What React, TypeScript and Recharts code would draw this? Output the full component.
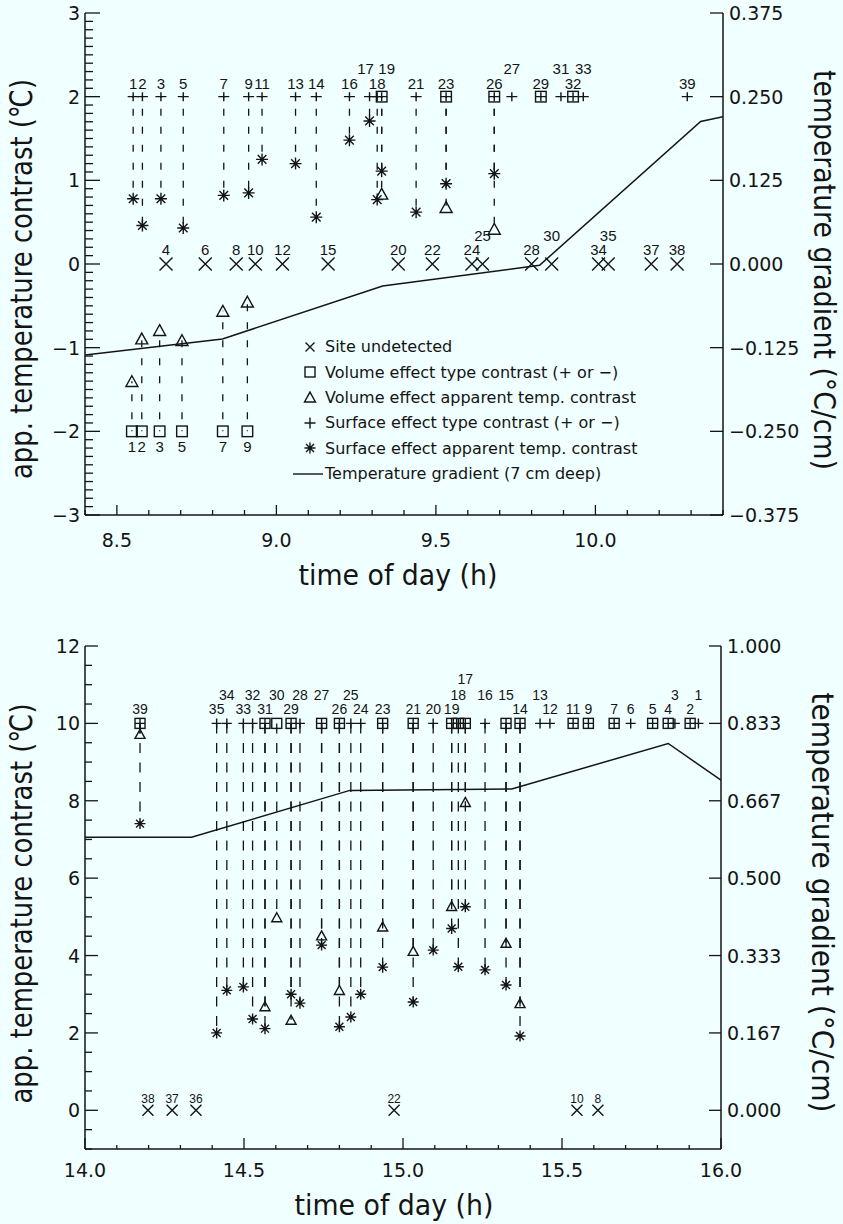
import React from "react";
import { ComposedChart, Line, Scatter, XAxis, YAxis, ReferenceLine, Legend } from "recharts";

const INK = "#141414";
const PAPER = "#f0ffff";
const SANS = "'DejaVu Sans', Verdana, sans-serif";
const NUM = "'Liberation Sans', Arial, sans-serif";

type Row2 = [number, number];
type Row3 = [number, number, number];

// ---- morning pass (top panel) ----  [site, time of day h]
const amUndetected: Row2[] = [
  [4, 8.654], [6, 8.777], [8, 8.874], [10, 8.934], [12, 9.019], [15, 9.162],
  [20, 9.382], [22, 9.489], [24, 9.613], [25, 9.646], [28, 9.8], [30, 9.863],
  [34, 10.01], [35, 10.04], [37, 10.175], [38, 10.256],
];
// "+" surface type contrast
const amSurface: Row2[] = [
  [1, 8.551], [2, 8.58], [3, 8.638], [5, 8.708], [7, 8.835], [9, 8.913], [11, 8.955],
  [13, 9.06], [14, 9.125], [16, 9.229], [17, 9.292], [18, 9.316], [19, 9.33],
  [21, 9.438], [23, 9.532], [26, 9.683], [27, 9.738], [29, 9.829], [31, 9.892],
  [32, 9.93], [33, 9.962], [39, 10.288],
];
// squares, volume type contrast [site, time, sign]
const amVolume: Row3[] = [
  [1, 8.547, -1], [2, 8.578, -1], [3, 8.634, -1], [5, 8.704, -1], [7, 8.832, -1], [9, 8.909, -1],
  [19, 9.33, 1], [23, 9.532, 1], [26, 9.683, 1], [29, 9.829, 1], [32, 9.93, 1],
];
// asterisks, surface apparent temp. contrast (°C)
const amSurfaceTemp: Row3[] = [
  [1, 8.551, 0.78], [2, 8.58, 0.46], [3, 8.638, 0.78], [5, 8.708, 0.43], [7, 8.835, 0.82],
  [9, 8.913, 0.85], [11, 8.955, 1.25], [13, 9.06, 1.2], [14, 9.125, 0.56], [16, 9.229, 1.48],
  [17, 9.292, 1.71], [18, 9.316, 0.77], [19, 9.33, 1.11], [21, 9.438, 0.62], [23, 9.532, 0.96],
  [26, 9.683, 1.08],
];
// triangles, volume apparent temp. contrast (°C)
const amVolumeTemp: Row3[] = [
  [1, 8.547, -1.4], [2, 8.578, -0.89], [3, 8.634, -0.79], [5, 8.704, -0.91], [7, 8.832, -0.56],
  [9, 8.909, -0.45], [19, 9.33, 0.84], [23, 9.532, 0.68], [26, 9.683, 0.42],
];
// temperature gradient 7 cm deep (°C/cm)
const amGradient: Row2[] = [
  [8.4, -0.136], [8.831, -0.112], [9.333, -0.033], [9.825, -0.002], [10.33, 0.213], [10.4, 0.22],
];
const amRaised = [17, 19, 25, 27, 30, 31, 33, 35];
const amNudge: Record<number, number> = { 17: -4, 19: 5 };

// ---- afternoon pass (bottom panel) ----
const pmUndetected: Row2[] = [
  [38, 14.198], [37, 14.274], [36, 14.349], [22, 14.972], [10, 15.547], [8, 15.613],
];
const pmSurface: Row2[] = [
  [39, 14.173], [35, 14.414], [34, 14.446], [33, 14.498], [32, 14.527], [31, 14.566],
  [29, 14.648], [28, 14.676], [27, 14.744], [26, 14.8], [25, 14.836], [24, 14.867],
  [23, 14.936], [21, 15.032], [20, 15.095], [19, 15.153], [18, 15.174], [17, 15.196],
  [16, 15.258], [15, 15.324], [14, 15.368], [13, 15.431], [12, 15.462], [11, 15.535],
  [9, 15.583], [7, 15.664], [6, 15.716], [5, 15.785], [4, 15.834], [3, 15.855],
  [2, 15.903], [1, 15.929],
];
const pmVolume: Row3[] = [
  [39, 14.173, 1], [31, 14.566, 1], [30, 14.603, 1], [29, 14.648, 1], [27, 14.744, 1],
  [26, 14.8, 1], [23, 14.936, 1], [21, 15.032, 1], [19, 15.153, 1], [18, 15.174, 1],
  [17, 15.196, 1], [15, 15.324, 1], [14, 15.368, 1], [11, 15.535, 1], [9, 15.583, 1],
  [7, 15.664, 1], [5, 15.785, 1], [4, 15.834, 1], [2, 15.903, 1],
];
const pmSurfaceTemp: Row3[] = [
  [39, 14.173, 7.41], [35, 14.414, 2.0], [34, 14.446, 3.1], [33, 14.498, 3.19], [32, 14.527, 2.36],
  [31, 14.566, 2.11], [29, 14.648, 3.0], [28, 14.676, 2.77], [27, 14.744, 4.27], [26, 14.8, 2.16],
  [25, 14.836, 2.41], [24, 14.867, 3.0], [23, 14.936, 3.7], [21, 15.032, 2.8], [20, 15.095, 4.14],
  [19, 15.153, 4.7], [18, 15.174, 3.71], [17, 15.196, 5.26], [16, 15.258, 3.63], [15, 15.324, 3.24],
  [14, 15.368, 1.92],
];
const pmVolumeTemp: Row3[] = [
  [39, 14.173, 9.73], [31, 14.566, 2.69], [30, 14.603, 4.99], [29, 14.648, 2.34], [27, 14.744, 4.52],
  [26, 14.8, 3.11], [23, 14.936, 4.75], [21, 15.032, 4.12], [19, 15.153, 5.28], [17, 15.196, 7.97],
  [15, 15.324, 4.33], [14, 15.368, 2.77],
];
const pmGradient: Row2[] = [
  [14.0, 0.588], [14.335, 0.588], [14.833, 0.689], [15.342, 0.692], [15.834, 0.79], [16.0, 0.711],
];
const pmRow2 = [34, 32, 30, 28, 27, 25, 18, 16, 15, 13, 3, 1];
const pmRow3 = [17];

const legendItems = [
  { mark: "cross", text: "Site undetected" },
  { mark: "box", text: "Volume effect type contrast (+ or \u2212)" },
  { mark: "tri", text: "Volume effect apparent temp. contrast" },
  { mark: "plus", text: "Surface effect type contrast (+ or \u2212)" },
  { mark: "star", text: "Surface effect apparent temp. contrast" },
  { mark: "line", text: "Temperature gradient (7 cm deep)" },
];

const steps = (a: number, b: number, st: number) =>
  Array.from({ length: Math.round((b - a) / st) + 1 }, (_, i) => Math.round((a + i * st) * 1000) / 1000);
const minus = (s: string) => s.replace("-", "\u2212");
const near = (list: number[], v: number) => list.some((m) => Math.abs(m - v) < 1e-6);

const SW = 1.4;
type G = { x: number; y: number; r: number; h?: number };
function Cross({ x, y, r }: G) {
  return <path d={`M${x - r} ${y - r}L${x + r} ${y + r}M${x - r} ${y + r}L${x + r} ${y - r}`} stroke={INK} strokeWidth={SW} fill="none" />;
}
function Plus({ x, y, r, h }: G) {
  const v = h ?? r;
  return <path d={`M${x - r} ${y}H${x + r}M${x} ${y - v}V${y + v}`} stroke={INK} strokeWidth={SW} fill="none" />;
}
function Box({ x, y, r }: G) {
  return <rect x={x - r} y={y - r} width={2 * r} height={2 * r} stroke={INK} strokeWidth={SW} fill="none" />;
}
function Tri({ x, y, r }: G) {
  const h = r * 0.9;
  return <path d={`M${x} ${y - h}L${x + r} ${y + h}L${x - r} ${y + h}Z`} stroke={INK} strokeWidth={SW} fill="none" />;
}
function Star({ x, y, r }: G) {
  const d = r * 0.72;
  return (
    <path
      d={`M${x - r} ${y}H${x + r}M${x} ${y - r}V${y + r}M${x - d} ${y - d}L${x + d} ${y + d}M${x - d} ${y + d}L${x + d} ${y - d}`}
      stroke={INK} strokeWidth={SW} fill="none"
    />
  );
}

function glyph(mark: string, x: number, y: number) {
  if (mark === "cross") return <Cross x={x} y={y} r={4.5} />;
  if (mark === "box") return <Box x={x} y={y} r={5} />;
  if (mark === "tri") return <Tri x={x} y={y} r={5.5} />;
  if (mark === "plus") return <Plus x={x} y={y} r={5.5} />;
  if (mark === "star") return <Star x={x} y={y} r={5.5} />;
  return <line x1={3} x2={33} y1={y} y2={y} stroke={INK} strokeWidth={SW} />;
}

function LegendBox() {
  return (
    <div style={{ fontFamily: SANS, fontSize: 16, color: INK }}>
      {legendItems.map((it) => (
        <div key={it.text} style={{ display: "flex", alignItems: "center", height: 25.4, whiteSpace: "nowrap" }}>
          <svg width={35} height={20} style={{ flex: "none" }}>{glyph(it.mark, 20, 10)}</svg>
          <span>{it.text}</span>
        </div>
      ))}
    </div>
  );
}

type Spec = {
  width: number; height: number;
  margin: { top: number; right: number; bottom: number; left: number };
  xDomain: [number, number]; xTicks: number[]; xLabels: number[];
  xLen: [number, number]; xTopLen: [number, number]; xLabelDy: number;
  yDomain: [number, number]; yTicks: number[]; yLabels: number[]; yLen: [number, number];
  rDomain: [number, number]; rTicks: number[]; rLen: number;
  level: number;
  undetected: Row2[]; surface: Row2[]; volume: Row3[];
  surfaceTemp: Row3[]; volumeTemp: Row3[]; gradient: Row2[];
  row: (site: number) => number;
  nudge: Record<number, number>;
  typeDy: number[]; belowDy: number; xDy: number[];
  mark: { cross: number; plus: [number, number]; box: number; tri: number; star: number };
  labelSize: number; xLabelSize: number;
  dash: string; dashOffset: number;
  titleDy: number; rightTitleDy: number; xTitleDx: number; xTitleDy: number; rightTitleLen: number;
  legend?: boolean;
};

const LEFT_W = 60;
const RIGHT_W = 100;
const BOTTOM_H = 50;

function Panel({ s }: { s: Spec }) {
  const plotLeft = s.margin.left + LEFT_W;
  const plotRight = s.width - s.margin.right - RIGHT_W;
  const plotTop = s.margin.top;
  const plotBottom = s.height - s.margin.bottom - BOTTOM_H;

  const volSign = new Map(s.volume.map(([site, , sign]) => [site, sign]));
  const drops = [
    ...s.surfaceTemp.map(([, t, v]) => ({ t, from: s.level, to: v })),
    ...s.volumeTemp.map(([site, t, v]) => ({ t, from: s.level * (volSign.get(site) ?? 1), to: v })),
  ];
  const surfacePts = s.surface.map(([site, t]) => ({ site, t, v: s.level }));
  const volumePts = s.volume.map(([site, t, sign]) => ({ site, t, v: s.level * sign }));
  const xPts = s.undetected.map(([site, t]) => ({ site, t, v: 0 }));
  const starPts = s.surfaceTemp.map(([site, t, v]) => ({ site, t, v }));
  const triPts = s.volumeTemp.map(([site, t, v]) => ({ site, t, v }));
  const grad = s.gradient.map(([t, g]) => ({ t, g }));
  const surfIds = new Set(s.surface.map(([site]) => site));
  const labels = [
    ...surfacePts.map((p) => ({ ...p, kind: "above" })),
    ...volumePts
      .filter((p) => p.v < 0 || !surfIds.has(p.site))
      .map((p) => ({ ...p, kind: p.v < 0 ? "below" : "above" })),
    ...xPts.map((p) => ({ ...p, kind: "x" })),
  ];

  const axisLine = { stroke: INK, strokeWidth: 1.5 };

  const xTick = (p: any) => {
    const v = p.payload.value;
    const x = p.payload.coordinate ?? p.x;
    const major = near(s.xLabels, v);
    return (
      <g>
        <line x1={x} x2={x} y1={plotBottom} y2={plotBottom - (major ? s.xLen[1] : s.xLen[0])} stroke={INK} strokeWidth={1.3} />
        {major && (
          <text x={x} y={plotBottom + s.xLabelDy} textAnchor="middle" fontSize={19} fontFamily={SANS} fill={INK}>
            {v.toFixed(1)}
          </text>
        )}
      </g>
    );
  };
  const xTopTick = (p: any) => {
    const x = p.payload.coordinate ?? p.x;
    const major = near(s.xLabels, p.payload.value);
    return <line x1={x} x2={x} y1={plotTop} y2={plotTop + (major ? s.xTopLen[1] : s.xTopLen[0])} stroke={INK} strokeWidth={1.3} />;
  };
  const yTick = (p: any) => {
    const v = p.payload.value;
    const y = p.payload.coordinate ?? p.y;
    const major = near(s.yLabels, v);
    return (
      <g>
        <line x1={plotLeft} x2={plotLeft + (major ? s.yLen[1] : s.yLen[0])} y1={y} y2={y} stroke={INK} strokeWidth={1.3} />
        {major && (
          <text x={plotLeft - 5} y={y + 7} textAnchor="end" fontSize={19} fontFamily={SANS} fill={INK}>
            {minus(String(v))}
          </text>
        )}
      </g>
    );
  };
  const rTick = (p: any) => {
    const y = p.payload.coordinate ?? p.y;
    return (
      <g>
        <line x1={plotRight} x2={plotRight - s.rLen} y1={y} y2={y} stroke={INK} strokeWidth={1.3} />
        <text x={plotRight + 6} y={y + 7} textAnchor="start" fontSize={19} fontFamily={SANS} fill={INK}>
          {minus(p.payload.value.toFixed(3))}
        </text>
      </g>
    );
  };

  const midY = (plotTop + plotBottom) / 2;
  const leftTitle = () => {
    const x = plotLeft - 53;
    const y = midY + s.titleDy;
    return (
      <text x={x} y={y} transform={`rotate(-90 ${x} ${y})`} textAnchor="middle" fontSize={31} fontFamily={SANS} fill={INK}
        textLength={400} lengthAdjust="spacingAndGlyphs">
        app. temperature contrast (℃)
      </text>
    );
  };
  const rightTitle = () => {
    const x = plotRight + 91;
    const y = midY + s.rightTitleDy;
    return (
      <text x={x} y={y} transform={`rotate(90 ${x} ${y})`} textAnchor="middle" fontSize={30} fontFamily={SANS} fill={INK}
        textLength={s.rightTitleLen} lengthAdjust="spacingAndGlyphs">
        temperature gradient (°C/cm)
      </text>
    );
  };
  const bottomTitle = () => (
    <text x={(plotLeft + plotRight) / 2 + s.xTitleDx} y={plotBottom + s.xTitleDy} textAnchor="middle" fontSize={29}
      fontFamily={SANS} fill={INK} textLength={199} lengthAdjust="spacingAndGlyphs">
      time of day (h)
    </text>
  );

  const labelShape = (p: any) => {
    if (p.cx == null) return <g />;
    const { site, kind } = p.payload;
    const r = s.row(site);
    const dy = kind === "below" ? s.belowDy : kind === "x" ? s.xDy[Math.min(r, s.xDy.length - 1)] : s.typeDy[r];
    const dx = kind === "above" ? s.nudge[site] ?? 0 : 0;
    return (
      <text x={p.cx + dx} y={p.cy + dy} textAnchor="middle" fontSize={kind === "x" ? s.xLabelSize : s.labelSize} fontFamily={NUM} fill={INK}>
        {site}
      </text>
    );
  };

  const m = s.mark;
  return (
    <ComposedChart width={s.width} height={s.height} margin={s.margin} style={{ fontFamily: SANS }}>
      <XAxis
        xAxisId="b" dataKey="t" type="number" domain={s.xDomain} allowDataOverflow ticks={s.xTicks} interval={0}
        tickLine={false} tick={xTick} axisLine={axisLine} height={BOTTOM_H}
        label={{ content: bottomTitle }}
      />
      <XAxis
        xAxisId="top" orientation="top" type="number" domain={s.xDomain} allowDataOverflow ticks={s.xTicks} interval={0}
        tickLine={false} tick={xTopTick} axisLine={axisLine} height={0}
      />
      <YAxis
        yAxisId="l" type="number" domain={s.yDomain} allowDataOverflow ticks={s.yTicks} interval={0} width={LEFT_W}
        tickLine={false} tick={yTick} axisLine={axisLine}
        label={{ content: leftTitle }}
      />
      <YAxis
        yAxisId="r" orientation="right" type="number" domain={s.rDomain} allowDataOverflow ticks={s.rTicks} interval={0}
        width={RIGHT_W} tickLine={false} tick={rTick} axisLine={axisLine}
        label={{ content: rightTitle }}
      />
      {drops.map((d, i) => (
        <ReferenceLine
          key={i} xAxisId="b" yAxisId="l"
          segment={[{ x: d.t, y: d.from }, { x: d.t, y: d.to }]}
          stroke={INK} strokeWidth={1.3} strokeDasharray={s.dash} strokeDashoffset={s.dashOffset}
        />
      ))}
      <Line
        xAxisId="b" yAxisId="r" data={grad} dataKey="g" type="linear" dot={false} activeDot={false}
        stroke={INK} strokeWidth={1.5} isAnimationActive={false} legendType="none"
      />
      <Scatter xAxisId="b" yAxisId="l" data={xPts} dataKey="v" isAnimationActive={false} legendType="none"
        shape={(p: any) => (p.cx == null ? <g /> : <Cross x={p.cx} y={p.cy} r={m.cross} />)} />
      <Scatter xAxisId="b" yAxisId="l" data={volumePts} dataKey="v" isAnimationActive={false} legendType="none"
        shape={(p: any) => (p.cx == null ? <g /> : <Box x={p.cx} y={p.cy} r={m.box} />)} />
      <Scatter xAxisId="b" yAxisId="l" data={surfacePts} dataKey="v" isAnimationActive={false} legendType="none"
        shape={(p: any) => (p.cx == null ? <g /> : <Plus x={p.cx} y={p.cy} r={m.plus[0]} h={m.plus[1]} />)} />
      <Scatter xAxisId="b" yAxisId="l" data={triPts} dataKey="v" isAnimationActive={false} legendType="none"
        shape={(p: any) => (p.cx == null ? <g /> : <Tri x={p.cx} y={p.cy} r={m.tri} />)} />
      <Scatter xAxisId="b" yAxisId="l" data={starPts} dataKey="v" isAnimationActive={false} legendType="none"
        shape={(p: any) => (p.cx == null ? <g /> : <Star x={p.cx} y={p.cy} r={m.star} />)} />
      <Scatter xAxisId="b" yAxisId="l" data={labels} dataKey="v" isAnimationActive={false} legendType="none" shape={labelShape} />
      {s.legend && (
        <Legend
          layout="vertical" align="center" verticalAlign="middle" content={LegendBox}
          wrapperStyle={{ left: 290, top: 334, width: 430 }}
        />
      )}
    </ComposedChart>
  );
}

const amSpec: Spec = {
  width: 843, height: 600,
  margin: { top: 13, right: 20, bottom: 35, left: 25 },
  xDomain: [8.4, 10.4], xTicks: steps(8.4, 10.4, 0.1), xLabels: [8.5, 9, 9.5, 10],
  xLen: [5, 10], xTopLen: [6, 12], xLabelDy: 32,
  yDomain: [-3, 3], yTicks: steps(-3, 3, 0.1), yLabels: [-3, -2, -1, 0, 1, 2, 3], yLen: [8, 15],
  rDomain: [-0.375, 0.375], rTicks: [-0.375, -0.25, -0.125, 0, 0.125, 0.25, 0.375], rLen: 13,
  level: 2,
  undetected: amUndetected, surface: amSurface, volume: amVolume,
  surfaceTemp: amSurfaceTemp, volumeTemp: amVolumeTemp, gradient: amGradient,
  row: (site) => (amRaised.includes(site) ? 1 : 0),
  nudge: amNudge,
  typeDy: [-8, -23], belowDy: 21, xDy: [-9, -23],
  mark: { cross: 6.5, plus: [5.5, 4.5], box: 5.3, tri: 6, star: 6 },
  labelSize: 15, xLabelSize: 15,
  dash: "7 11", dashOffset: 6,
  titleDy: 15, rightTitleDy: 6, xTitleDx: -6, xTitleDy: 70, rightTitleLen: 400,
  legend: true,
};

const pmSpec: Spec = {
  width: 843, height: 624,
  margin: { top: 46, right: 22, bottom: 25, left: 25 },
  xDomain: [14, 16], xTicks: steps(14, 16, 0.1), xLabels: [14, 14.5, 15, 15.5, 16],
  xLen: [4, 11], xTopLen: [5, 10], xLabelDy: 28,
  yDomain: [-1, 12], yTicks: steps(-1, 12, 0.5), yLabels: [0, 2, 4, 6, 8, 10, 12], yLen: [7, 13],
  rDomain: [-1 / 12, 1], rTicks: [0, 1 / 6, 2 / 6, 3 / 6, 4 / 6, 5 / 6, 1], rLen: 12,
  level: 10,
  undetected: pmUndetected, surface: pmSurface, volume: pmVolume,
  surfaceTemp: pmSurfaceTemp, volumeTemp: pmVolumeTemp, gradient: pmGradient,
  row: (site) => (pmRow3.includes(site) ? 2 : pmRow2.includes(site) ? 1 : 0),
  nudge: {},
  typeDy: [-9, -23, -39], belowDy: 18, xDy: [-7],
  mark: { cross: 5.5, plus: [5, 5], box: 5, tri: 5, star: 5.5 },
  labelSize: 14, xLabelSize: 12,
  dash: "10 9.5", dashOffset: 0,
  titleDy: 6, rightTitleDy: 5, xTitleDx: -9, xTitleDy: 66, rightTitleLen: 420,
};

export default function App() {
  return (
    <div style={{ position: "absolute", left: 0, top: 0, width: 843, height: 1224, background: PAPER, overflow: "hidden" }}>
      <div style={{ position: "absolute", left: 0, top: 0 }}>
        <Panel s={amSpec} />
      </div>
      <div style={{ position: "absolute", left: 0, top: 600 }}>
        <Panel s={pmSpec} />
      </div>
    </div>
  );
}
